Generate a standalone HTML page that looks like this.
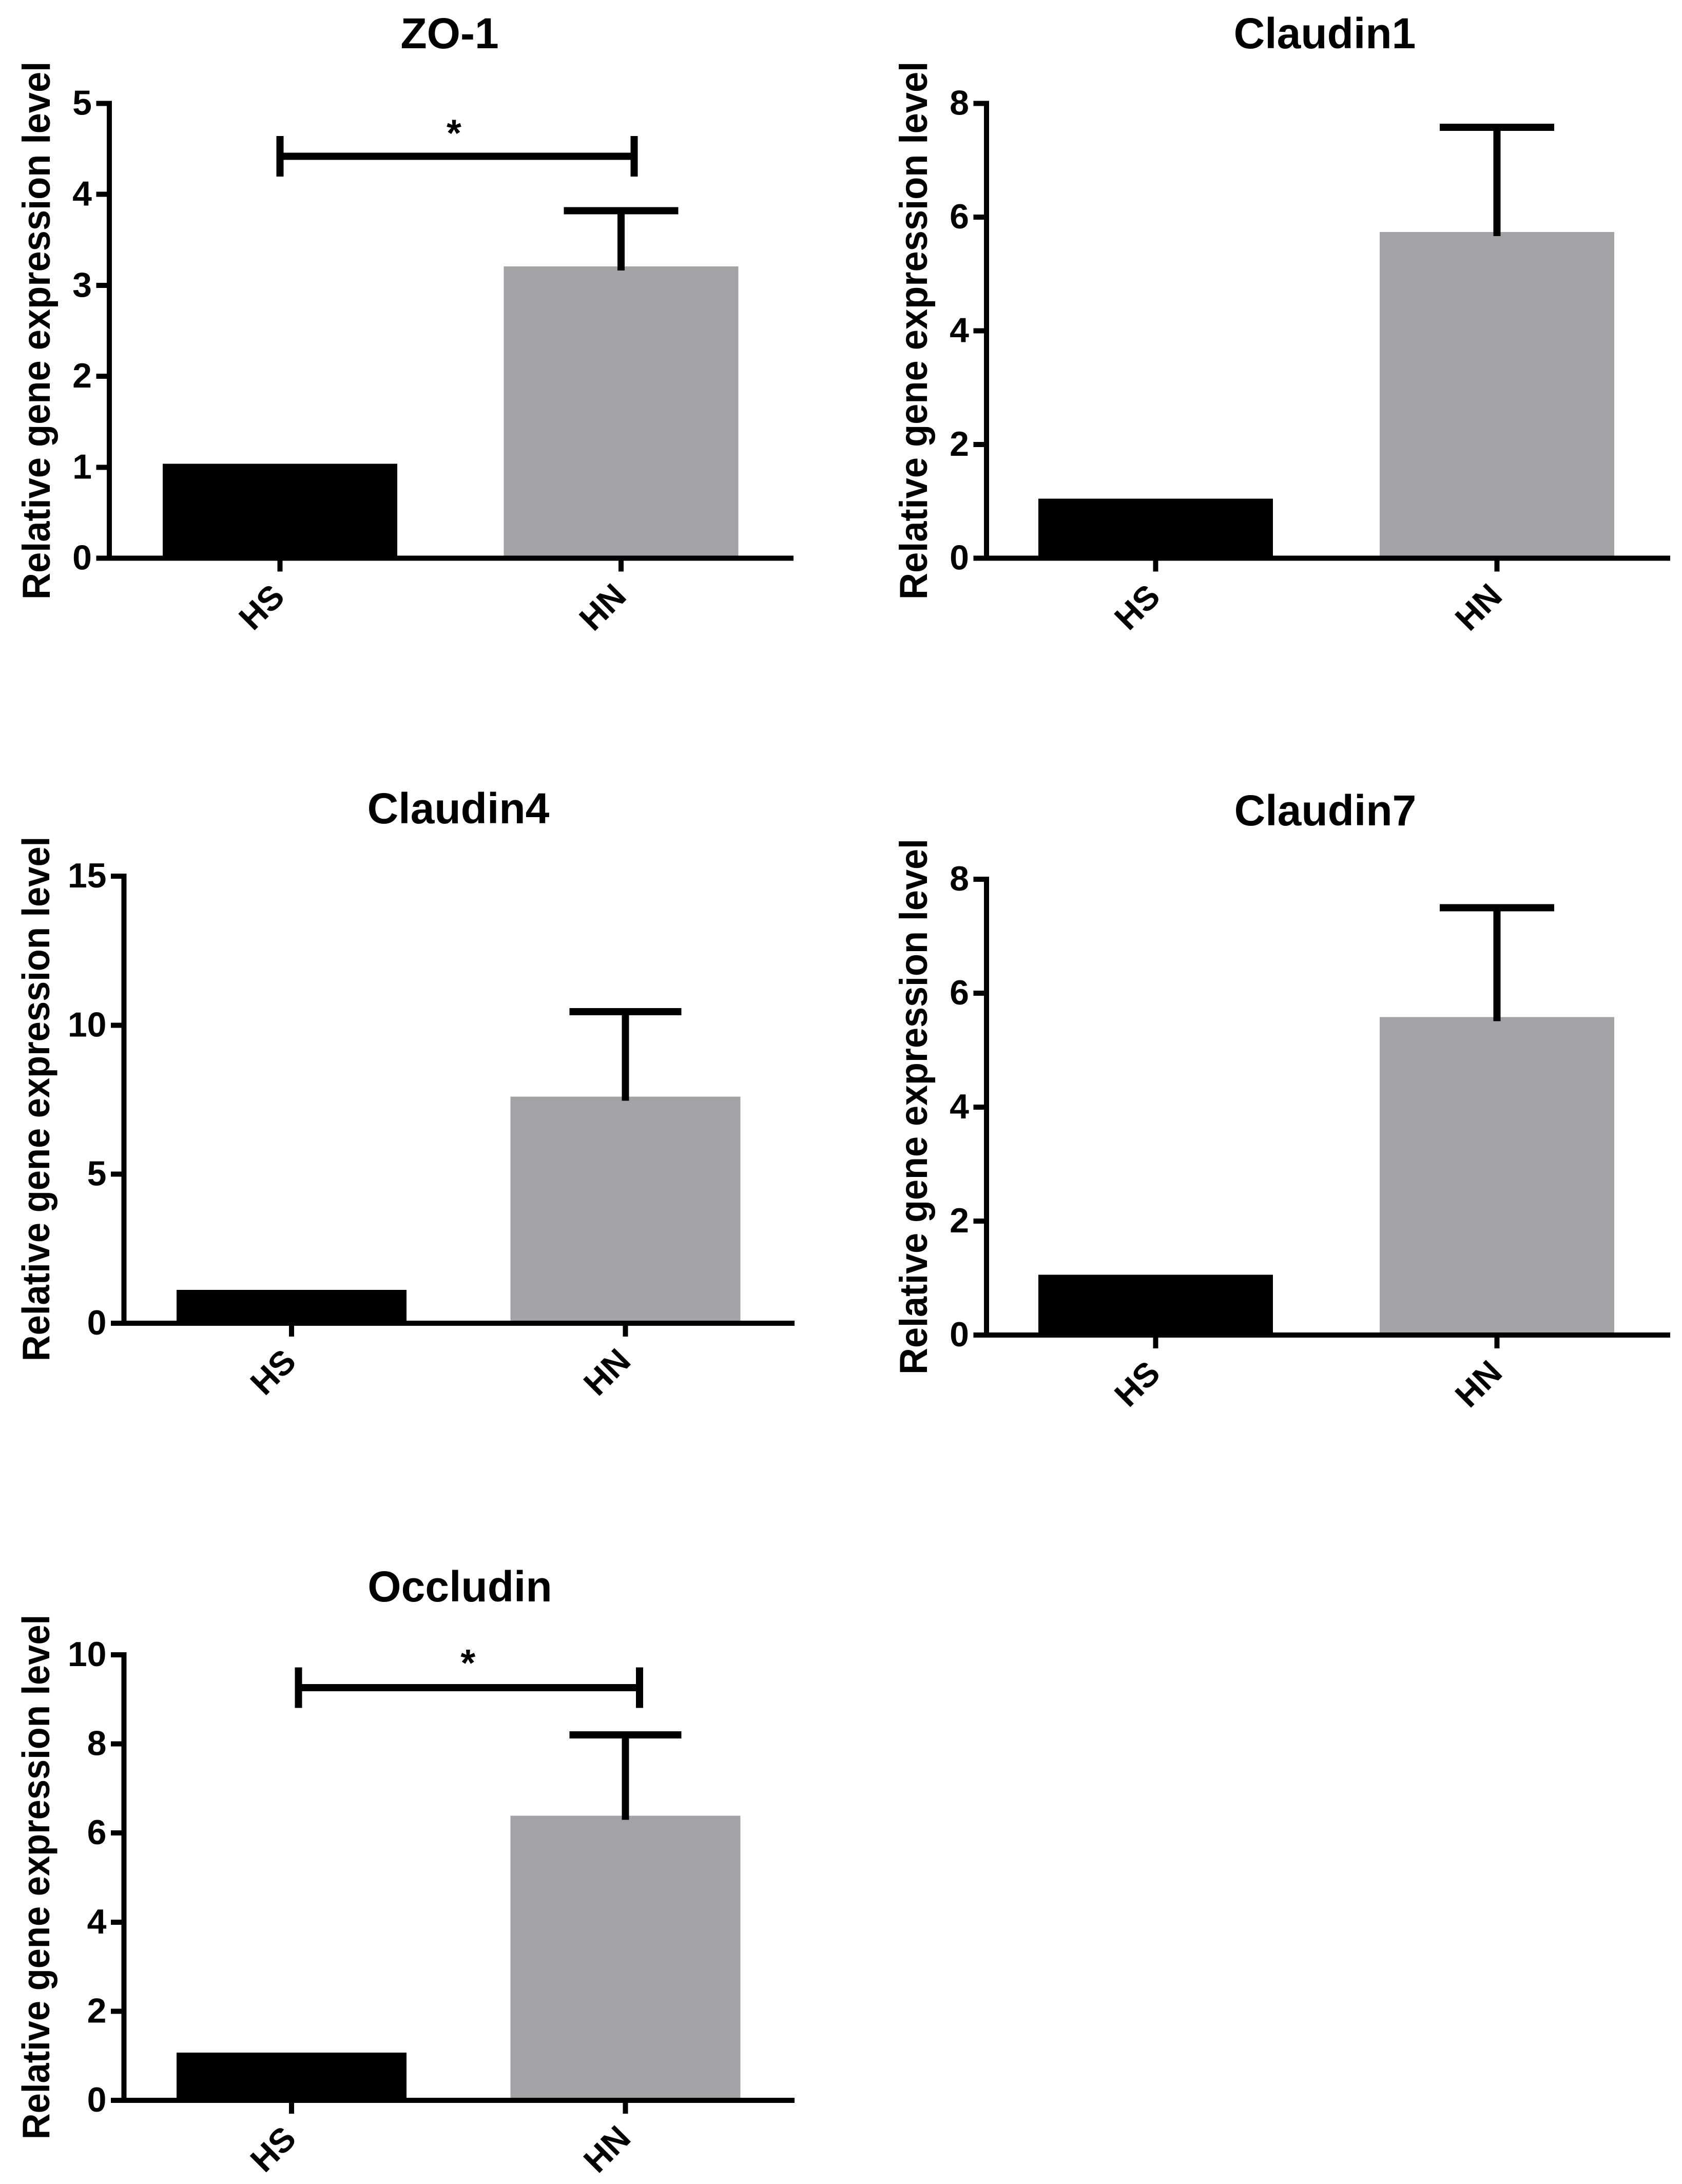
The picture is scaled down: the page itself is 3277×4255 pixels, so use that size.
<!DOCTYPE html>
<html lang="en">
<head>
<meta charset="utf-8">
<title>Relative gene expression of tight junction proteins</title>
<style>
  html, body { margin: 0; padding: 0; background: #ffffff; }
  svg { display: block; }
  text { font-family: "Liberation Sans", Arial, sans-serif; font-weight: bold; fill: #000000; }
</style>
</head>
<body>
<svg id="figure" xmlns="http://www.w3.org/2000/svg" width="3277" height="4255" viewBox="0 0 3277 4255"></svg>
<script>
// ---------- data ----------
const categories = ['HS', 'HN'];
const yAxisTitle = 'Relative gene expression level';

const zo1Means = [1.04, 3.21];
const zo1Errors = [0, 0.61];
const zo1Ticks = [0, 1, 2, 3, 4, 5];
const zo1BracketSpan = [0, 1.038];
const zo1BracketLevel = [4.42];

const claudin1Means = [1.05, 5.74];
const claudin1Errors = [0, 1.84];
const claudin1Ticks = [0, 2, 4, 6, 8];

const claudin4Means = [1.12, 7.6];
const claudin4Errors = [0, 2.85];
const claudin4Ticks = [0, 5, 10, 15];

const claudin7Means = [1.06, 5.58];
const claudin7Errors = [0, 1.92];
const claudin7Ticks = [0, 2, 4, 6, 8];

const occludinMeans = [1.07, 6.39];
const occludinErrors = [0, 1.81];
const occludinTicks = [0, 2, 4, 6, 8, 10];
const occludinBracketSpan = [0.021, 1.042];
const occludinBracketLevel = [9.26];

// ---------- panel layout ----------
const panels = [
  { key: 'zo1', title: 'ZO-1', titleX: 876, titleY: 94, means: zo1Means, errors: zo1Errors, ticks: zo1Ticks,
    bracketSpan: zo1BracketSpan, bracketLevel: zo1BracketLevel, starDX: -6, starDY: -20,
    axisX: 213, zeroY: 1087.7, topY: 201.5, rightX: 1546, firstX: 545.5, stepX: 664.5, barW: 457, capW: 223, labelX: 97, labelCY: 644, labelSize: 76, labelStretch: 0.951 },
  { key: 'claudin1', title: 'Claudin1', titleX: 2581, titleY: 94, means: claudin1Means, errors: claudin1Errors, ticks: claudin1Ticks,
    axisX: 1922, zeroY: 1087.7, topY: 201.5, rightX: 3254, firstX: 2251.5, stepX: 665, barW: 457, capW: 223, labelX: 1806, labelCY: 644, labelSize: 76, labelStretch: 0.951 },
  { key: 'claudin4', title: 'Claudin4', titleX: 893, titleY: 1604, means: claudin4Means, errors: claudin4Errors, ticks: claudin4Ticks,
    axisX: 241.5, zeroY: 2578, topY: 1707, rightX: 1548, firstX: 568, stepX: 650.5, barW: 448, capW: 218, labelX: 96, labelCY: 2141, labelSize: 75, labelStretch: 0.94 },
  { key: 'claudin7', title: 'Claudin7', titleX: 2582, titleY: 1608, means: claudin7Means, errors: claudin7Errors, ticks: claudin7Ticks,
    axisX: 1922, zeroY: 2601, topY: 1713, rightX: 3254, firstX: 2251.5, stepX: 665, barW: 457, capW: 223, labelX: 1806, labelCY: 2156, labelSize: 76, labelStretch: 0.947 },
  { key: 'occludin', title: 'Occludin', titleX: 896, titleY: 3120, means: occludinMeans, errors: occludinErrors, ticks: occludinTicks,
    bracketSpan: occludinBracketSpan, bracketLevel: occludinBracketLevel, starDX: -2, starDY: -23,
    axisX: 241.5, zeroY: 4092, topY: 3224, rightX: 1548, firstX: 568, stepX: 650.5, barW: 448, capW: 218, labelX: 96, labelCY: 3657, labelSize: 75, labelStretch: 0.94 }
];

const barColors = ['#000000', '#a2a3a6'];
const svgNS = 'http://www.w3.org/2000/svg';
const figure = document.getElementById('figure');

function makeRect(parent, x, y, w, h, fill) {
  const r = document.createElementNS(svgNS, 'rect');
  r.setAttribute('x', x);
  r.setAttribute('y', y);
  r.setAttribute('width', w);
  r.setAttribute('height', h);
  r.setAttribute('fill', fill);
  r.setAttribute('shape-rendering', 'crispEdges');
  parent.appendChild(r);
  return r;
}

function makeText(parent, str, x, y, size, anchor, transform) {
  const t = document.createElementNS(svgNS, 'text');
  t.setAttribute('x', x);
  t.setAttribute('y', y);
  t.setAttribute('font-size', size);
  t.setAttribute('text-anchor', anchor);
  if (transform) t.setAttribute('transform', transform);
  t.textContent = str;
  parent.appendChild(t);
  return t;
}

panels.forEach(function (p) {
  const maxTick = p.ticks[p.ticks.length - 1];
  const yScale = function (v) { return p.zeroY - (v / maxTick) * (p.zeroY - p.topY); };
  const xScale = function (pos) { return p.firstX + pos * p.stepX; };

  const g = document.createElementNS(svgNS, 'g');
  
  
  figure.appendChild(g);

  const title = makeText(g, p.title, p.titleX, p.titleY, 84, 'middle');
  
  

  const yTitle = makeText(g, yAxisTitle, 0, 0, p.labelSize, 'middle',
    'translate(' + p.labelX + ',' + p.labelCY + ') rotate(-90) scale(' + p.labelStretch + ',1)');
  
  

  // bars and error bars
  categories.forEach(function (cat, i) {
    const cx = xScale(i);
    const top = yScale(p.means[i]);
    const bar = makeRect(g, cx - p.barW / 2, top, p.barW, p.zeroY - top, barColors[i]);
    
    

    if (p.errors[i] > 0) {
      const errY = yScale(p.means[i] + p.errors[i]);
      const stem = makeRect(g, cx - 7, errY, 14, top + 8 - errY, '#000000');
      
      
      const cap = makeRect(g, cx - p.capW / 2, errY - 7, p.capW, 14, '#000000');
      
      
    }
  });

  // y axis
  const yLine = makeRect(g, p.axisX - 5, p.topY - 5, 10, p.zeroY - p.topY + 10, '#000000');
  
  

  p.ticks.forEach(function (tick) {
    const y = yScale(tick);
    const mark = makeRect(g, p.axisX - 25.5, y - 5, 25.5, 10, '#000000');
    
    
    const label = makeText(g, String(tick), p.axisX - 34, y + 22, 68, 'end');
    
    
  });

  // x axis
  const xLine = makeRect(g, p.axisX - 25.5, p.zeroY - 5, p.rightX - p.axisX + 25.5, 10, '#000000');
  
  

  categories.forEach(function (cat, i) {
    const cx = xScale(i);
    const mark = makeRect(g, cx - 5, p.zeroY, 10, 26, '#000000');
    
    
    const label = makeText(g, cat, 0, 23.4, 66, 'middle',
      'translate(' + (cx - 36.5) + ',' + (p.zeroY + 94.5) + ') rotate(-45)');
    
    
  });

  // significance bracket
  if (p.bracketSpan) {
    const x1 = xScale(p.bracketSpan[0]);
    const x2 = xScale(p.bracketSpan[1]);
    const by = yScale(p.bracketLevel[0]);
    const line = makeRect(g, x1, by - 7, x2 - x1, 14, '#000000');
    
    
    const capLeft = makeRect(g, x1 - 7, by - 39.5, 14, 79, '#000000');
    
    
    const capRight = makeRect(g, x2 - 7, by - 39.5, 14, 79, '#000000');
    
    
    const star = makeText(g, '*', (x1 + x2) / 2 + p.starDX, by + p.starDY, 74, 'middle');
    
    
  }
});
</script>
</body>
</html>
